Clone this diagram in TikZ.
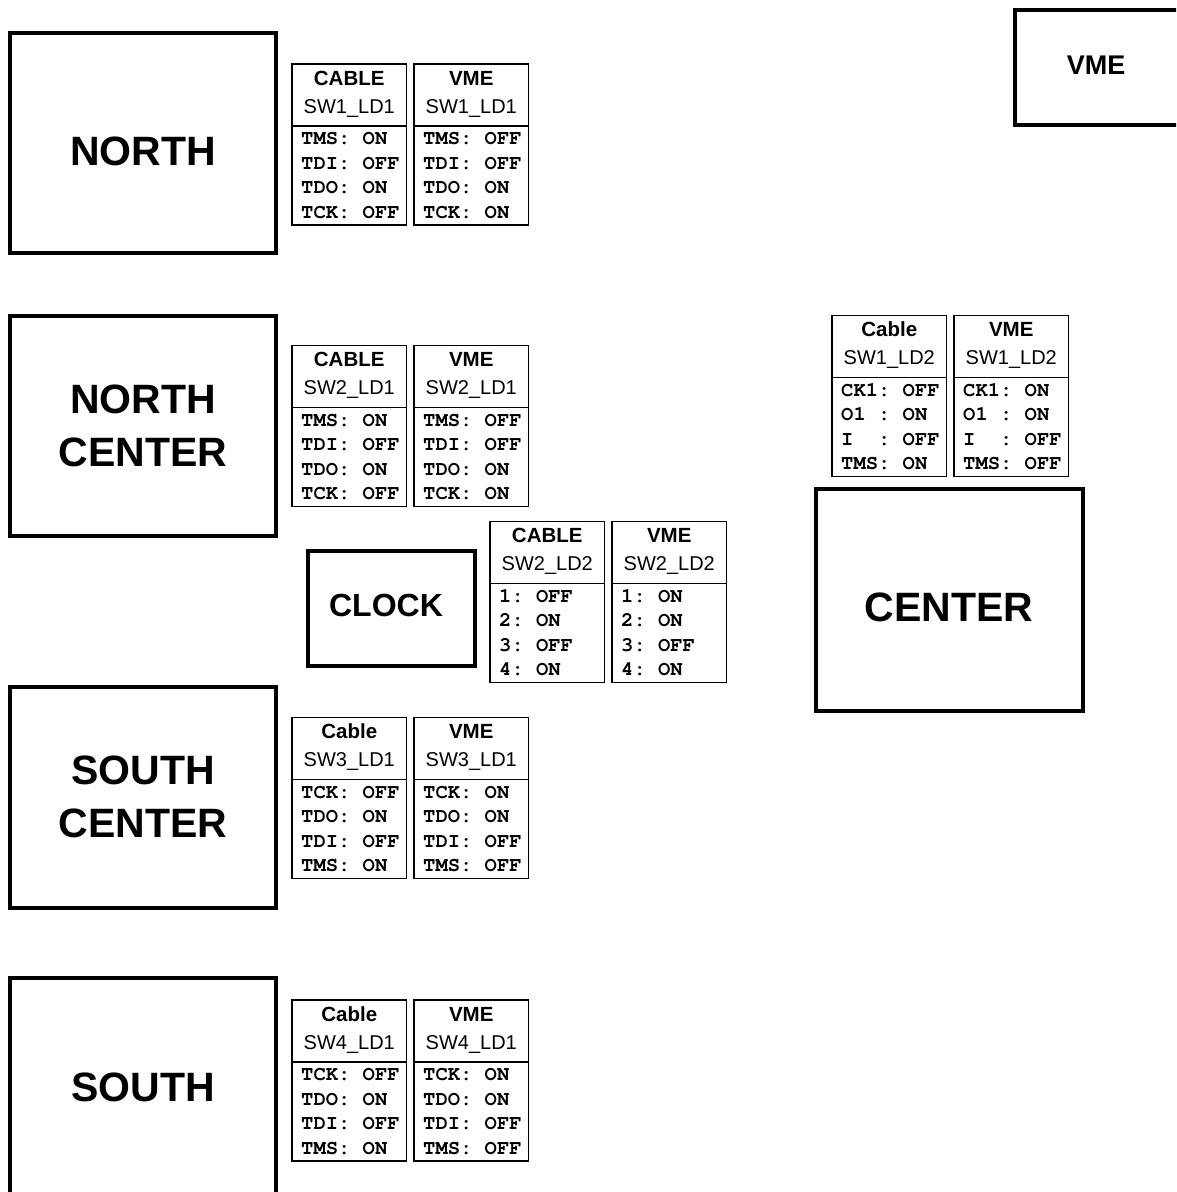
\documentclass[tikz,border=0pt]{standalone}
\usepackage{fontspec}
\setmainfont{Liberation Sans}
\setmonofont{TeX Gyre Cursor}
\tikzset{
  bigbox/.style={draw, line width=3.3pt, anchor=north west, inner sep=0pt, outer sep=0pt},
  biglabel/.style={font=\fontsize{41}{53}\selectfont\bfseries, align=center, inner sep=0pt},
  tabbox/.style={draw, line width=1.5pt, anchor=north west, inner sep=0pt, outer sep=0pt,
                 minimum width=114.5pt, minimum height=161pt},
  tabline/.style={line width=1.5pt},
  tabtitle/.style={font=\fontsize{20.5}{24}\selectfont\bfseries, inner sep=0pt, anchor=base},
  tabsub/.style={font=\fontsize{20}{24}\selectfont, inner sep=0pt, anchor=base},
  tabrow/.style={font=\fontsize{20.5}{24}\selectfont\ttfamily\bfseries, inner sep=0pt, anchor=base west}
}
\newcommand\swtab[9]{%
  \node[tabbox] (#1) at (#2,#3) {};
  \draw[tabline] ([yshift=-62pt]#1.north west) -- ([yshift=-62pt]#1.north east);
  \node[tabtitle] (#1t) at ([yshift=-21pt]#1.north) {#4};
  \node[tabsub] (#1s) at ([yshift=-49pt]#1.north) {#5};
  \node[tabrow] (#1a) at ([xshift=9pt,yshift=-80.5pt]#1.north west) {#6};
  \node[tabrow] (#1b) at ([xshift=9pt,yshift=-105pt]#1.north west) {#7};
  \node[tabrow] (#1c) at ([xshift=9pt,yshift=-129.5pt]#1.north west) {#8};
  \node[tabrow] (#1d) at ([xshift=9pt,yshift=-154pt]#1.north west) {#9};
}
\begin{document}
\begin{tikzpicture}[x=1pt,y=-1pt]
\path[use as bounding box] (0,0) rectangle (1176,1192);
\clip (0,0) rectangle (1176,1192);

% big boxes
\node[bigbox, minimum width=266pt, minimum height=220pt] (north) at (10,33) {};
\node[biglabel] (northL) at (143,151) {NORTH};

\node[bigbox, minimum width=266pt, minimum height=220pt] (ncenter) at (10,316) {};
\node[biglabel] (ncenterL) at (143,425.5) {NORTH\\CENTER};

\node[bigbox, minimum width=266pt, minimum height=221pt] (scenter) at (10,687) {};
\node[biglabel] (scenterL) at (143,796.5) {SOUTH\\CENTER};

\node[bigbox, minimum width=266pt, minimum height=240pt] (south) at (10,978) {};
\node[biglabel] (southL) at (143,1087) {SOUTH};

\node[bigbox, minimum width=167pt, minimum height=115pt] (clock) at (308,551) {};
\node[biglabel, font=\fontsize{32}{38}\selectfont\bfseries] (clockL) at (386,605) {CLOCK};

\node[bigbox, minimum width=267pt, minimum height=222pt] (center) at (816,489) {};
\node[biglabel] (centerL) at (949,607) {CENTER};

\node[bigbox, minimum width=200pt, minimum height=115pt] (vme) at (1015,10) {};
\node[biglabel, font=\fontsize{27}{32}\selectfont\bfseries] (vmeL) at (1096,65) {VME};

% tables
\swtab{nC}{292}{64}{CABLE}{SW1\_LD1}{TMS:~ON}{TDI:~OFF}{TDO:~ON}{TCK:~OFF}
\swtab{nV}{414}{64}{VME}{SW1\_LD1}{TMS:~OFF}{TDI:~OFF}{TDO:~ON}{TCK:~ON}

\swtab{ncC}{292}{345.5}{CABLE}{SW2\_LD1}{TMS:~ON}{TDI:~OFF}{TDO:~ON}{TCK:~OFF}
\swtab{ncV}{414}{345.5}{VME}{SW2\_LD1}{TMS:~OFF}{TDI:~OFF}{TDO:~ON}{TCK:~ON}

\swtab{ckC}{490}{521.5}{CABLE}{SW2\_LD2}{1:~OFF}{2:~ON}{3:~OFF}{4:~ON}
\swtab{ckV}{612}{521.5}{VME}{SW2\_LD2}{1:~ON}{2:~ON}{3:~OFF}{4:~ON}

\swtab{scC}{292}{717.5}{Cable}{SW3\_LD1}{TCK:~OFF}{TDO:~ON}{TDI:~OFF}{TMS:~ON}
\swtab{scV}{414}{717.5}{VME}{SW3\_LD1}{TCK:~ON}{TDO:~ON}{TDI:~OFF}{TMS:~OFF}

\swtab{sC}{292}{1000}{Cable}{SW4\_LD1}{TCK:~OFF}{TDO:~ON}{TDI:~OFF}{TMS:~ON}
\swtab{sV}{414}{1000}{VME}{SW4\_LD1}{TCK:~ON}{TDO:~ON}{TDI:~OFF}{TMS:~OFF}

\swtab{cC}{832}{315.5}{Cable}{SW1\_LD2}{CK1:~OFF}{O1~:~ON}{I~~:~OFF}{TMS:~ON}
\swtab{cV}{954}{315.5}{VME}{SW1\_LD2}{CK1:~ON}{O1~:~ON}{I~~:~OFF}{TMS:~OFF}
\end{tikzpicture}
\end{document}
